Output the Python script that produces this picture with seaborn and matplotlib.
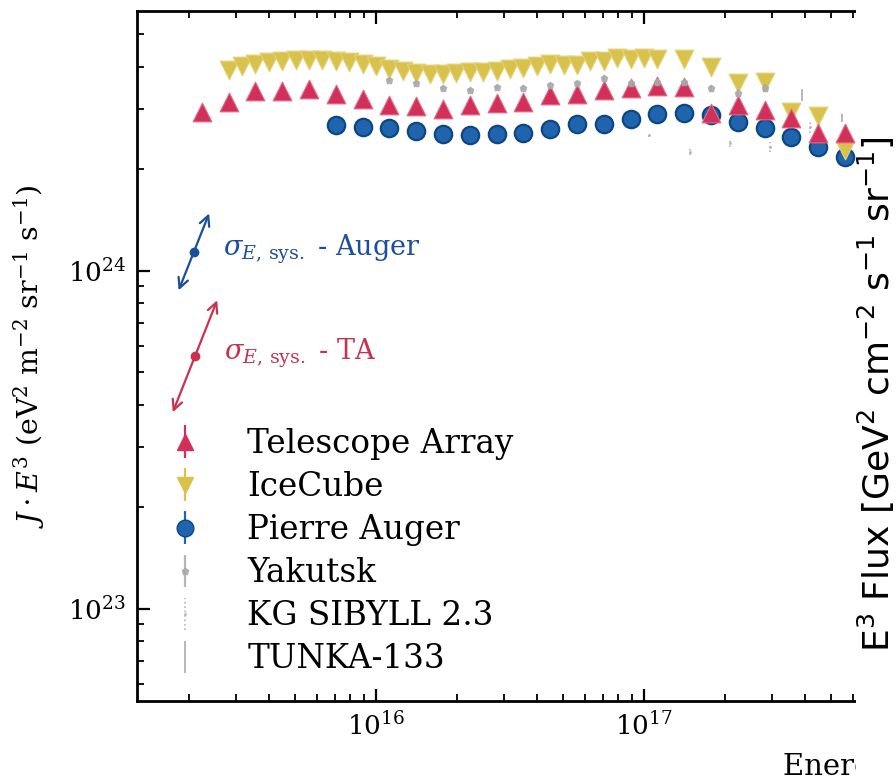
import numpy as np
import pandas as pd
import matplotlib
matplotlib.use("Agg")
import matplotlib.pyplot as plt
from matplotlib.patches import Rectangle
import seaborn as sns

# ---------------------------------------------------------------------------
# Cosmic-ray all-particle spectrum, J*E^3 in units of 1e24 eV^2 m^-2 sr^-1 s^-1
# energies given as log10(E / eV)
# ---------------------------------------------------------------------------
ta_log_e = [15.35, 15.45, 15.55, 15.65, 15.75, 15.85, 15.95, 16.05, 16.15, 16.25,
            16.35, 16.45, 16.55, 16.65, 16.75, 16.85, 16.95, 17.05, 17.15, 17.25,
            17.35, 17.45, 17.55, 17.65, 17.75]
ta_flux = [2.95, 3.16, 3.40, 3.40, 3.45, 3.33, 3.22, 3.09, 3.07, 3.01,
           3.09, 3.13, 3.16, 3.31, 3.33, 3.42, 3.47, 3.52, 3.50, 2.93,
           3.09, 2.99, 2.83, 2.56, 2.56]

icecube_log_e = [15.45, 15.50, 15.55, 15.60, 15.65, 15.70, 15.75, 15.80, 15.85, 15.90,
                 15.95, 16.00, 16.05, 16.10, 16.15, 16.20, 16.25, 16.30, 16.35, 16.40,
                 16.45, 16.50, 16.55, 16.60, 16.65, 16.70, 16.75, 16.80, 16.85, 16.90,
                 16.95, 17.00, 17.05, 17.15, 17.25, 17.35, 17.45, 17.55, 17.65, 17.75]
icecube_flux = [3.93, 4.03, 4.09, 4.15, 4.17, 4.20, 4.20, 4.20, 4.17, 4.15,
                4.09, 4.03, 3.95, 3.90, 3.85, 3.82, 3.82, 3.85, 3.87, 3.87,
                3.90, 3.95, 3.98, 4.03, 4.09, 4.06, 4.06, 4.17, 4.17, 4.26,
                4.23, 4.26, 4.23, 4.23, 4.01, 3.59, 3.62, 2.95, 2.87, 2.28]

auger_log_e = [15.85, 15.95, 16.05, 16.15, 16.25, 16.35, 16.45, 16.55, 16.65, 16.75,
               16.85, 16.95, 17.05, 17.15, 17.25, 17.35, 17.45, 17.55, 17.65, 17.75]
auger_flux = [2.70, 2.66, 2.64, 2.59, 2.54, 2.52, 2.54, 2.56, 2.63, 2.72,
              2.72, 2.81, 2.91, 2.93, 2.89, 2.75, 2.64, 2.49, 2.32, 2.17]

yakutsk_log_e = [16.05, 16.15, 16.25, 16.35, 16.45, 16.55, 16.65, 16.75, 16.85, 16.95,
                 17.05, 17.15, 17.25, 17.35, 17.45]
yakutsk_flux = [3.67, 3.59, 3.47, 3.42, 3.50, 3.47, 3.54, 3.59, 3.72, 3.59,
                3.62, 3.62, 3.47, 3.36, 3.47]
yakutsk_err = [0.05, 0.05, 0.05, 0.05, 0.05, 0.06, 0.06, 0.06, 0.07, 0.07,
               0.07, 0.08, 0.08, 0.09, 0.10]

kg_log_e = [17.02, 17.17, 17.32, 17.47, 17.62]
kg_flux = [2.52, 2.25, 2.39, 2.32, 2.66]
kg_err = [0.04, 0.05, 0.07, 0.08, 0.10]

tunka_log_e = [17.59, 17.74]
tunka_flux = [3.31, 2.83]
tunka_err = [0.14, 0.08]

# energy-scale systematic uncertainties and where their markers sit
auger_sys = 0.14
ta_sys = 0.21
auger_sys_anchor = (2.09e15, 1.136e24)
ta_sys_anchor = (2.11e15, 5.58e23)

UNIT = 1e24

# ---------------------------------------------------------------------------
sns.set_theme(style="ticks")
plt.rcParams["font.family"] = ["DejaVu Serif"]
plt.rcParams["mathtext.fontset"] = "dejavuserif"
for key in ["text.color", "axes.labelcolor", "xtick.color", "ytick.color",
            "axes.edgecolor"]:
    plt.rcParams[key] = "black"

W, H = 896, 781
fig = plt.figure(figsize=(W / 100, H / 100), dpi=100)
fig.patch.set_facecolor("white")
ax = fig.add_axes([137 / W, 80 / H, (856 - 137) / W, 690 / H])
ax.set_facecolor("white")
ax.set_xscale("log")
ax.set_yscale("log")

TA_COLOR = "#D2305A"
IC_COLOR = "#D9C24C"
AUGER_COLOR = "#1F64AC"
GREY = "#A9A9A9"


def frame(log_e, flux):
    return pd.DataFrame({"energy": 10 ** np.asarray(log_e),
                         "flux": np.asarray(flux) * UNIT})


auger_df = frame(auger_log_e, auger_flux)
ic_df = frame(icecube_log_e, icecube_flux)
ta_df = frame(ta_log_e, ta_flux)

sns.scatterplot(data=auger_df, x="energy", y="flux", marker="o", s=12.5 ** 2,
                color=AUGER_COLOR, edgecolor="#0D4684", linewidth=1.6,
                legend=False, ax=ax, zorder=3)
sns.scatterplot(data=ic_df, x="energy", y="flux", marker="v", s=13.5 ** 2,
                color=IC_COLOR, edgecolor="#E3D27A", linewidth=0.8,
                legend=False, ax=ax, zorder=4)
sns.scatterplot(data=ta_df, x="energy", y="flux", marker="^", s=13.5 ** 2,
                color=TA_COLOR, edgecolor="#E46A86", linewidth=0.8,
                legend=False, ax=ax, zorder=5)

# grey comparison data sets with their error bars
yak = ax.errorbar(10 ** np.asarray(yakutsk_log_e), np.asarray(yakutsk_flux) * UNIT,
                  yerr=np.asarray(yakutsk_err) * UNIT, fmt="p", ms=5, color=GREY,
                  mec=GREY, elinewidth=1.6, capsize=0, zorder=6, alpha=0.85)
kg = ax.errorbar(10 ** np.asarray(kg_log_e), np.asarray(kg_flux) * UNIT,
                 yerr=np.asarray(kg_err) * UNIT, fmt=".", ms=2, color="#B4B4B4",
                 elinewidth=1.2, capsize=0, zorder=6)
kg[2][0].set_linestyle(":")
tunka = ax.errorbar(10 ** np.asarray(tunka_log_e), np.asarray(tunka_flux) * UNIT,
                    yerr=np.asarray(tunka_err) * UNIT, fmt="none", color="#B8B8B8",
                    elinewidth=1.4, capsize=0, zorder=6)

# energy-scale systematics: shifting E by (1 +/- s) moves J*E^3 by (1 +/- s)^2
for (x0, y0), s, color, name in [(auger_sys_anchor, auger_sys, "#1B4E9B", "Auger"),
                                 (ta_sys_anchor, ta_sys, "#C8324F", "TA")]:
    lo = (x0 / (1 + s), y0 / (1 + s) ** 2)
    hi = (x0 * (1 + s), y0 * (1 + s) ** 2)
    ax.annotate("", xy=hi, xytext=lo,
                arrowprops=dict(arrowstyle="<->", color=color, lw=1.6,
                                mutation_scale=18, shrinkA=0, shrinkB=0))
    ax.plot([x0], [y0], "o", color=color, ms=6, zorder=7)
    ax.annotate(r"$\sigma_{E,\,\mathrm{sys.}}$" + " - " + name, xy=(x0, y0),
                xytext=(21, 2), textcoords="offset points", color=color,
                fontsize=19.5, va="center", ha="left")

ax.set_xlim(1.282e15, 6.18e17)
ax.set_ylim(5.33e22, 5.86e24)

ax.set_xlabel("")
ax.set_ylabel(r"$J \cdot E^3$ (eV$^2$ m$^{-2}$ sr$^{-1}$ s$^{-1}$)",
              fontsize=20.5, labelpad=15)

for side in ["left", "top", "bottom"]:
    ax.spines[side].set_linewidth(2.0)
    ax.spines[side].set_color("black")
ax.spines["right"].set_visible(False)
ax.tick_params(which="both", direction="in", top=True, right=False,
               colors="black", labelsize=19)
ax.tick_params(which="major", length=9, width=1.6, pad=8)
ax.tick_params(which="minor", length=5, width=1.3)

# legend with error-bar style handles
proxy_kw = dict(capsize=0, elinewidth=1.6)
h_ta = ax.errorbar([], [], yerr=[], fmt="^", ms=12, color=TA_COLOR, **proxy_kw)
h_ic = ax.errorbar([], [], yerr=[], fmt="v", ms=12, color=IC_COLOR, **proxy_kw)
h_au = ax.errorbar([], [], yerr=[], fmt="o", ms=12, color=AUGER_COLOR,
                   mec="#0D4684", **proxy_kw)
leg = ax.legend([h_ta, h_ic, h_au, yak, kg, tunka],
                ["Telescope Array", "IceCube", "Pierre Auger", "Yakutsk",
                 "KG SIBYLL 2.3", "TUNKA-133"],
                loc="upper left", bbox_to_anchor=(169 / W, 1 - 428 / H),
                bbox_transform=fig.transFigure, frameon=False, fontsize=23.5,
                handlelength=1.0, handletextpad=1.4, labelspacing=0.34,
                borderpad=0, borderaxespad=0)

# neighbouring panel: its axis label text, and the edge of this panel
fig.text(783 / W, 1 - 775 / H, "Energy [eV]", fontsize=21, ha="left",
         va="baseline")
fig.patches.append(Rectangle((856 / W, 0), (W - 856) / W, 1,
                             transform=fig.transFigure, facecolor="white",
                             edgecolor="none", zorder=10))
fig.text(876 / W, 1 - 394 / H,
         r"E$^3$ Flux [GeV$^2$ cm$^{-2}$ s$^{-1}$ sr$^{-1}$]",
         rotation=90, ha="center", va="center", fontsize=26,
         family=["DejaVu Sans"], math_fontfamily="dejavusans", zorder=11)

fig.savefig("out.png", dpi=100, facecolor="white")
